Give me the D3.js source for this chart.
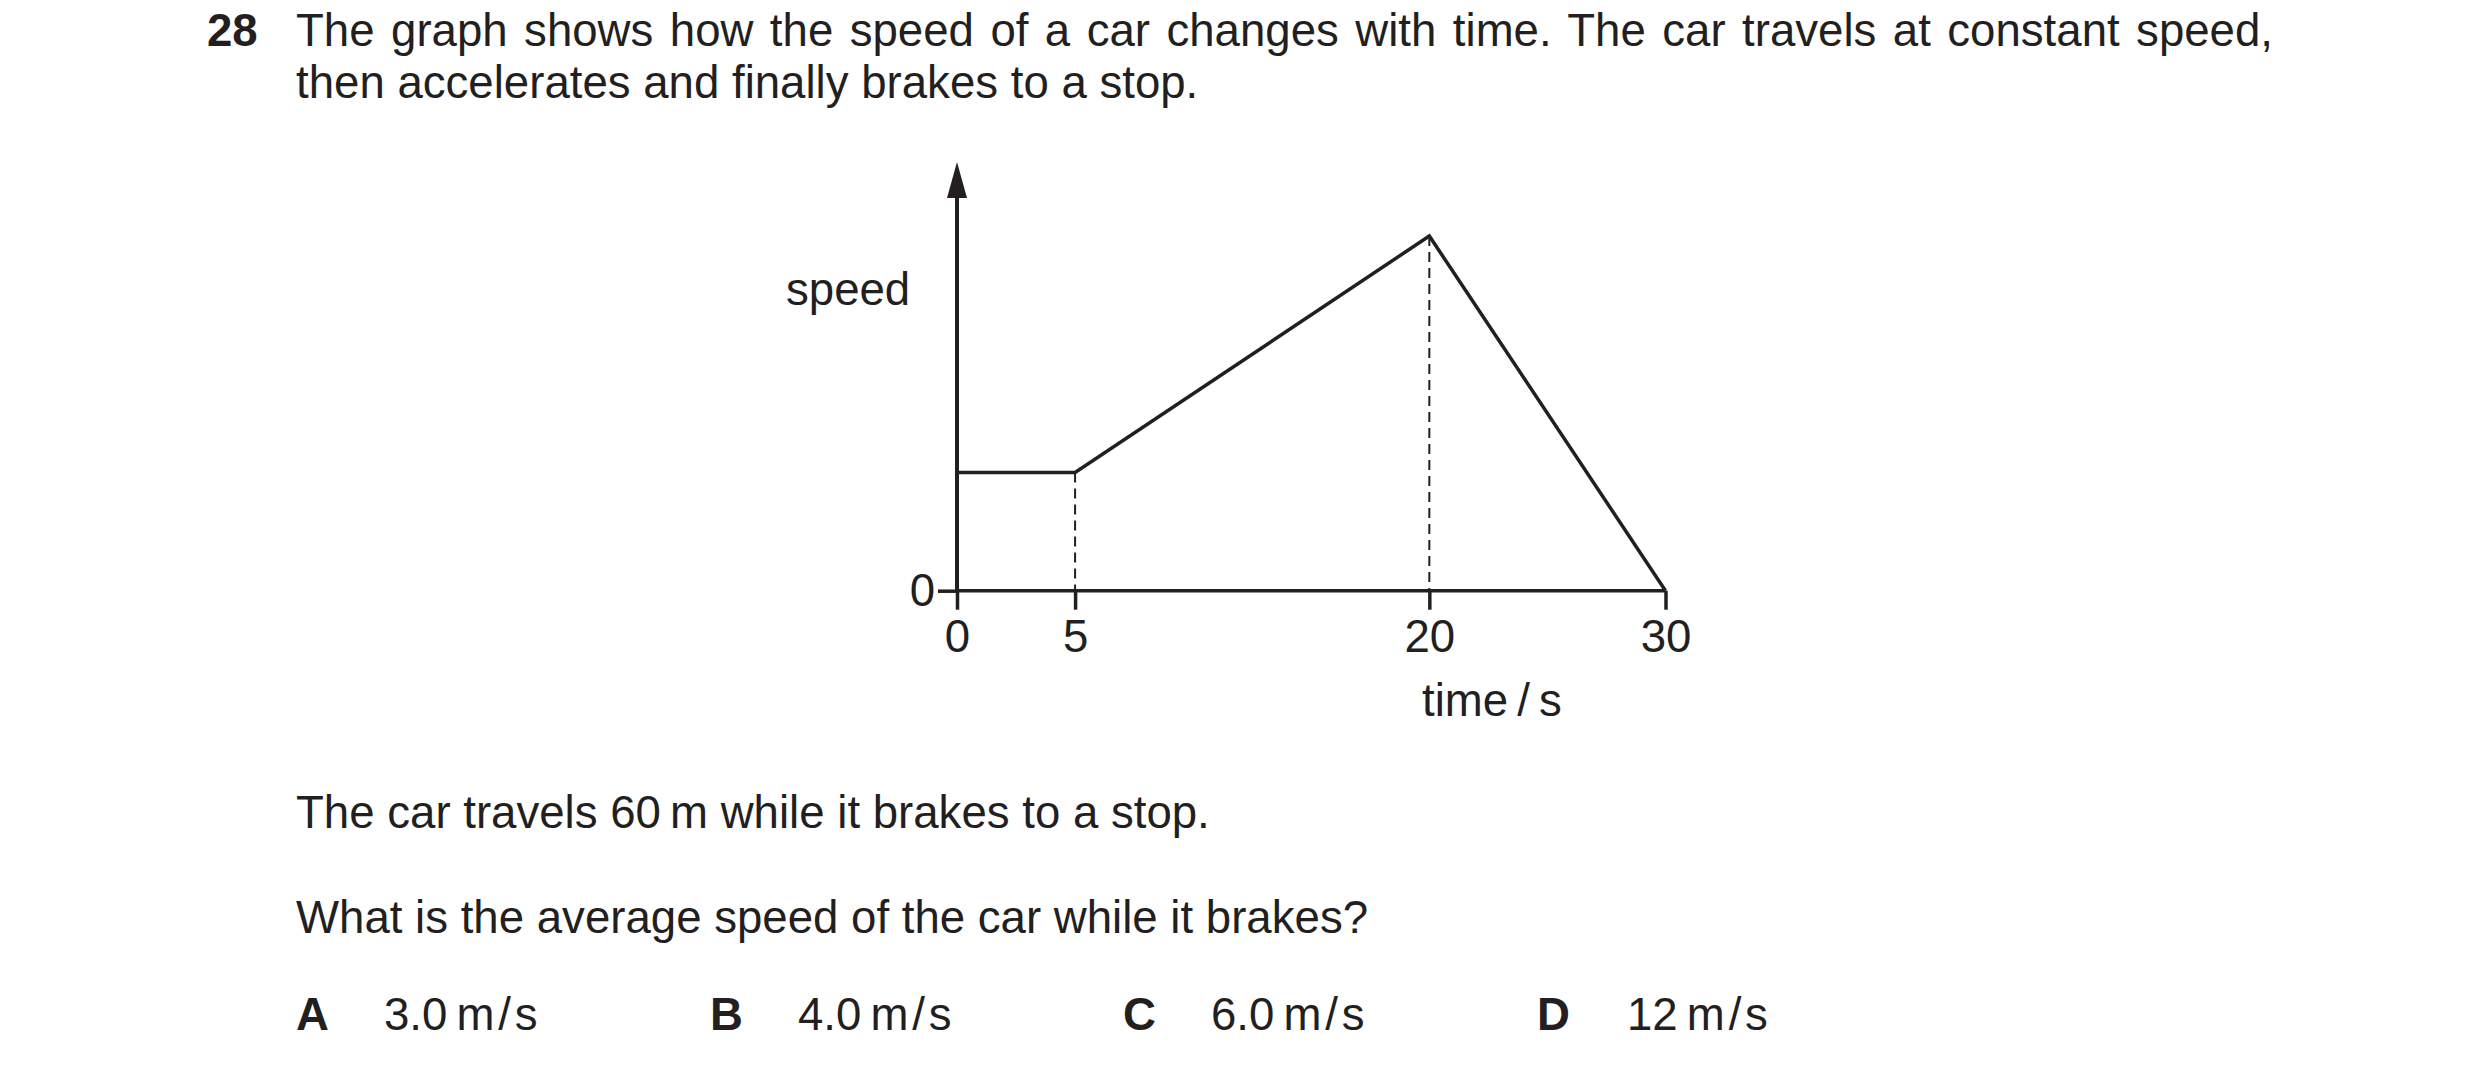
<!DOCTYPE html>
<html>
<head>
<meta charset="utf-8">
<script src="https://cdn.jsdelivr.net/npm/d3@7"></script>
<style>
  html, body { margin: 0; padding: 0; background: #fff; }
  svg { display: block; }
  text { font-family: "Liberation Sans", Arial, sans-serif; fill: #231f20; }
</style>
</head>
<body>
<svg id="chart" width="2480" height="1071"></svg>
<script>
// ---- data ----
const times = [0, 5, 20, 30];          // time / s
const speedValues = [4, 4, 12, 0];     // relative speed at each time
const xTickValues = [0, 5, 20, 30];
const xTickLabels = ["0", "5", "20", "30"];
const yTickValues = [0];
const yTickLabels = ["0"];
const dashedAt = [5, 20];
const yAxisTop = 14.5;
const questionNumber = "28";
const questionLines = [
  "The graph shows how the speed of a car changes with time. The car travels at constant speed,",
  "then accelerates and finally brakes to a stop."
];
const statement = "The car travels 60\u2009m while it brakes to a stop.";
const question = "What is the average speed of the car while it brakes?";
const answerLetters = ["A", "B", "C", "D"];
const answerValues = ["3.0\u2009m\u200a/\u200as", "4.0\u2009m\u200a/\u200as", "6.0\u2009m\u200a/\u200as", "12\u2009m\u200a/\u200as"];
const yLabel = "speed";
const xLabel = "time\u2009/\u2009s";

const ink = "#231f20";
const svg = d3.select("#chart");

// ---- question text ----
const fs = 45.6;
svg.append("text").attr("x", 207).attr("y", 46)
  .attr("font-size", fs).attr("font-weight", "bold").text(questionNumber);
const l1 = svg.append("text").attr("x", 296).attr("y", 46)
  .attr("font-size", fs).text(questionLines[0]);
// justify first line
const targetW = 2273 - 296;
const natW = l1.node().getComputedTextLength();
const nSpaces = (questionLines[0].match(/ /g) || []).length;
l1.attr("word-spacing", (targetW - natW) / nSpaces);
svg.append("text").attr("x", 296).attr("y", 98)
  .attr("font-size", fs).text(questionLines[1]);

// ---- chart ----
const x = d3.scaleLinear().domain([0, 30]).range([957, 1665.5]);
const y = d3.scaleLinear().domain([0, 12]).range([590.7, 236]);

const g = svg.append("g");

// dashed guide lines
const pts = times.map((t, i) => ({t, v: speedValues[i]}));
dashedAt.forEach(t => {
  const p = pts.find(d => d.t === t);
  g.append("line")
    .attr("x1", x(t)).attr("x2", x(t))
    .attr("y1", y(p.v)).attr("y2", y(0))
    .attr("stroke", ink).attr("stroke-width", 2)
    .attr("stroke-dasharray", "10,6");
});

// x axis ticks + labels
const xAxis = d3.axisBottom(x)
  .tickValues(xTickValues)
  .tickFormat((d, i) => xTickLabels[i])
  .tickSizeInner(19).tickSizeOuter(0).tickPadding(10);
const gx = g.append("g").attr("transform", `translate(0,${y(0)})`).call(xAxis);
gx.select(".domain").remove();
gx.selectAll(".tick line").attr("stroke", ink).attr("stroke-width", 3.5);
gx.selectAll(".tick text").attr("font-size", fs)
  .attr("font-family", "Liberation Sans, Arial, sans-serif").attr("fill", ink);

// y axis tick + label
const yAxis = d3.axisLeft(y)
  .tickValues(yTickValues)
  .tickFormat((d, i) => yTickLabels[i])
  .tickSizeInner(19).tickSizeOuter(0).tickPadding(3);
const gy = g.append("g").attr("transform", `translate(${x(0)},0)`).call(yAxis);
gy.select(".domain").remove();
gy.selectAll(".tick line").attr("stroke", ink).attr("stroke-width", 3.5);
gy.selectAll(".tick text").attr("font-size", fs)
  .attr("font-family", "Liberation Sans, Arial, sans-serif").attr("fill", ink);

// axis lines
const yTopPx = y(yAxisTop);
g.append("line").attr("x1", x(0)).attr("x2", x(0))
  .attr("y1", y(0) + 1.75).attr("y2", yTopPx + 30)
  .attr("stroke", ink).attr("stroke-width", 4);
g.append("line").attr("x1", x(0)).attr("x2", x(30))
  .attr("y1", y(0)).attr("y2", y(0))
  .attr("stroke", ink).attr("stroke-width", 3.5);
// arrow head
g.append("path")
  .attr("d", `M${x(0)},${yTopPx} L${x(0) - 10},${yTopPx + 36} L${x(0) + 10},${yTopPx + 36} Z`)
  .attr("fill", ink);

// speed-time line
const line = d3.line().x(d => x(d.t)).y(d => y(d.v));
g.append("path").datum(pts)
  .attr("d", line)
  .attr("fill", "none").attr("stroke", ink)
  .attr("stroke-width", 3.5).attr("stroke-linejoin", "miter");

// axis labels
svg.append("text").attr("x", 786).attr("y", 305).attr("font-size", fs).text(yLabel);
svg.append("text").attr("x", 1422).attr("y", 716).attr("font-size", fs).text(xLabel);

// ---- lower text ----
svg.append("text").attr("x", 296).attr("y", 828).attr("font-size", fs).text(statement);
svg.append("text").attr("x", 296).attr("y", 933).attr("font-size", fs).text(question);

const letterX = [296, 710, 1123, 1537];
const valueX = [384, 798, 1211, 1627];
answerLetters.forEach((L, i) => {
  svg.append("text").attr("x", letterX[i]).attr("y", 1030)
    .attr("font-size", fs).attr("font-weight", "bold").text(L);
  svg.append("text").attr("x", valueX[i]).attr("y", 1030)
    .attr("font-size", fs).text(answerValues[i]);
});
</script>
</body>
</html>
